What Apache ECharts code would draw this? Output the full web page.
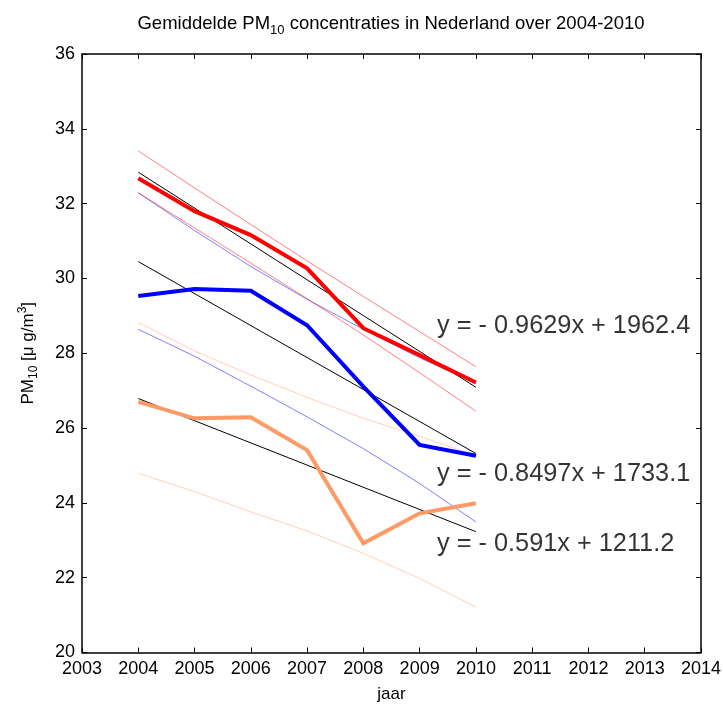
<!DOCTYPE html>
<html>
<head>
<meta charset="utf-8">
<script src="https://cdn.jsdelivr.net/npm/echarts@6/dist/echarts.min.js"></script>
<style>
html,body{margin:0;padding:0;background:#fff;}
#chart{width:723px;height:704px;}
</style>
</head>
<body>
<div id="chart"></div>
<script>
// ---- data ----
const years = [2004, 2005, 2006, 2007, 2008, 2009, 2010];

// yearly means
const redMean    = [32.68, 31.80, 31.16, 30.27, 28.67, 27.95, 27.22];
const blueMean   = [29.53, 29.72, 29.67, 28.75, 27.11, 25.55, 25.26];
const orangeMean = [26.70, 26.26, 26.29, 25.41, 22.92, 23.72, 23.99];

// confidence bounds
const redUpper    = [33.41, 32.42, 31.44, 30.47, 29.52, 28.58, 27.64];
const redLower    = [32.29, 31.35, 30.41, 29.46, 28.49, 27.48, 26.45];
const blueUpper   = [32.29, 31.28, 30.32, 29.44, 28.64, 27.88, 27.20];
const blueLower   = [28.64, 27.92, 27.12, 26.30, 25.45, 24.52, 23.49];
const orangeUpper = [28.82, 28.06, 27.42, 26.82, 26.26, 25.78, 25.26];
const orangeLower = [24.79, 24.30, 23.76, 23.25, 22.65, 21.98, 21.21];

// trend lines (end points at 2004 and 2010)
const fitYears  = [2004, 2010];
const redFit    = [32.84, 27.09];
const blueFit   = [30.45, 25.32];
const orangeFit = [26.79, 23.23];

// equation texts
const eqTexts = ['y = - 0.9629x + 1962.4', 'y = - 0.8497x + 1733.1', 'y = - 0.591x + 1211.2'];
const eqAnchorX = [2009.31, 2009.31, 2009.31];
const eqAnchorY = [28.72, 24.78, 22.89];

// axis ticks
const xMin = 2003, xMax = 2014, xStep = 1;
const yMin = 20, yMax = 36, yStep = 2;

// ---- chart ----
const pairs = (xs, ys) => xs.map((x, i) => [x, ys[i]]);
const FONT = '"Liberation Sans", Arial, Helvetica, sans-serif';

function line(name, xs, ys, color, width, opacity, z) {
  return {
    name, type: 'line', data: pairs(xs, ys),
    xAxisIndex: 0, yAxisIndex: 0,
    symbol: 'none', smooth: false, silent: true, animation: false,
    lineStyle: { color, width, opacity, cap: 'butt', join: 'miter' },
    z
  };
}

const chart = echarts.init(document.getElementById('chart'), null, { renderer: 'canvas' });

const axisCommon = {
  type: 'value',
  axisLine: { show: true, onZero: false, lineStyle: { color: '#000', width: 1.5 } },
  axisTick: { show: true, inside: true, length: 5, lineStyle: { color: '#000', width: 1 } },
  splitLine: { show: false },
  minorTick: { show: false }
};

const option = {
  backgroundColor: '#fff',
  animation: false,
  textStyle: { fontFamily: FONT },
  title: {
    text: '{a|Gemiddelde PM}{s|10}{a| concentraties in Nederland over 2004-2010}',
    left: 386, top: 6, textAlign: 'center',
    textStyle: {
      fontFamily: FONT, fontWeight: 'normal', color: '#000',
      rich: {
        a: { fontFamily: FONT, fontSize: 18.5, color: '#000' },
        s: { fontFamily: FONT, fontSize: 13, color: '#000', padding: [13, 0, 0, 0] }
      }
    }
  },
  grid: { left: 82, right: 22, top: 54, bottom: 51.5, containLabel: false, outerBoundsMode: 'none' },
  xAxis: [
    Object.assign({}, axisCommon, {
      position: 'bottom', min: xMin, max: xMax, interval: xStep,
      axisLabel: { color: '#000', fontSize: 18, fontFamily: FONT, margin: 8, formatter: v => String(v) },
      name: 'jaar', nameLocation: 'middle', nameGap: 33,
      nameTextStyle: { color: '#000', fontSize: 17, fontFamily: FONT }
    }),
    Object.assign({}, axisCommon, {
      position: 'top', min: xMin, max: xMax, interval: xStep,
      axisLabel: { show: false }
    })
  ],
  yAxis: [
    Object.assign({}, axisCommon, {
      position: 'left', min: yMin, max: yMax, interval: yStep,
      axisLabel: { color: '#000', fontSize: 18, fontFamily: FONT, margin: 7 },
      name: '{a|PM}{s|10}{a| [μ g/m}{p|3}{a|]}', nameLocation: 'middle', nameGap: 42, nameRotate: 90,
      nameTextStyle: {
        color: '#000', fontFamily: FONT,
        rich: {
          a: { fontFamily: FONT, fontSize: 17, color: '#000' },
          s: { fontFamily: FONT, fontSize: 12, color: '#000', padding: [12, 0, 0, 0] },
          p: { fontFamily: FONT, fontSize: 12, color: '#000', padding: [0, 0, 10, 0] }
        }
      }
    }),
    Object.assign({}, axisCommon, {
      position: 'right', min: yMin, max: yMax, interval: yStep,
      axisLabel: { show: false }
    })
  ],
  series: [
    line('orangeUpper', years, orangeUpper, '#ff9966', 1, 0.45, 2),
    line('orangeLower', years, orangeLower, '#ff9966', 1, 0.45, 2),
    line('blueUpper', years, blueUpper, '#0000ff', 1, 0.5, 2),
    line('blueLower', years, blueLower, '#0000ff', 1, 0.5, 2),
    line('redUpper', years, redUpper, '#ff0000', 1, 0.5, 2),
    line('redLower', years, redLower, '#ff0000', 1, 0.5, 2),
    line('redFit', fitYears, redFit, '#000000', 1, 1, 3),
    line('blueFit', fitYears, blueFit, '#000000', 1, 1, 3),
    line('orangeFit', fitYears, orangeFit, '#000000', 1, 1, 3),
    line('orangeMean', years, orangeMean, '#ff9966', 4, 1, 4),
    line('blueMean', years, blueMean, '#0000ff', 4, 1, 4),
    line('redMean', years, redMean, '#ff0000', 4, 1, 4),
    {
      name: 'equations', type: 'scatter', silent: true, animation: false,
      symbolSize: 0, z: 5,
      data: eqTexts.map((t, i) => ({ value: [eqAnchorX[i], eqAnchorY[i]], text: t })),
      label: {
        show: true, position: 'right', distance: 0,
        formatter: p => p.data.text,
        color: '#000', fontSize: 25.3, fontFamily: FONT
      }
    }
  ]
};

chart.setOption(option);
</script>
</body>
</html>
